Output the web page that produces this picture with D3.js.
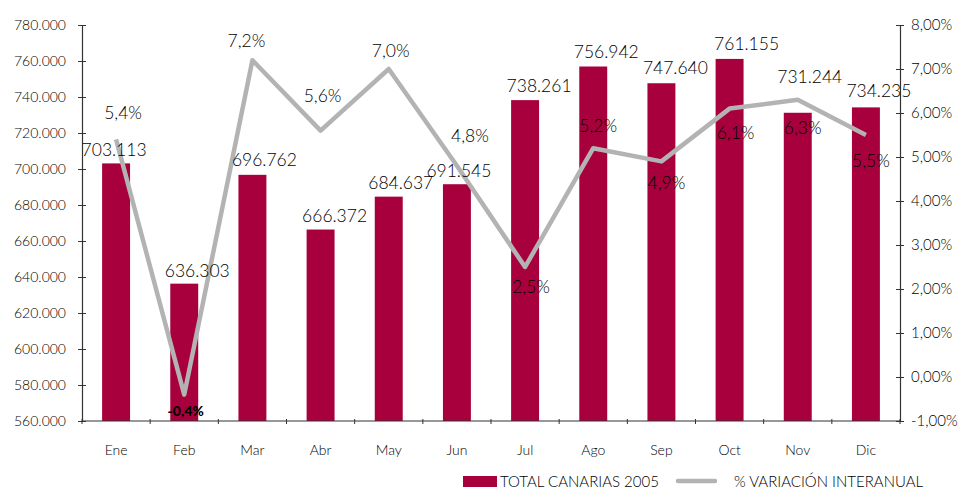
<!DOCTYPE html>
<html>
<head>
<meta charset="utf-8">
<script src="https://cdn.jsdelivr.net/npm/d3@7/dist/d3.min.js"></script>
<style>
  html, body { margin: 0; padding: 0; background: #fff; }
  svg { display: block; font-family: Lato, "Open Sans", sans-serif; font-weight: 300; }
</style>
</head>
<body>
<svg id="chart" width="961" height="489"></svg>
<script>
// ---- data ----
const months = ["Ene","Feb","Mar","Abr","May","Jun","Jul","Ago","Sep","Oct","Nov","Dic"];
const totals = [703113,636303,696762,666372,684637,691545,738261,756942,747640,761155,731244,734235];
const variation = [5.4,-0.4,7.2,5.6,7.0,4.8,2.5,5.2,4.9,6.1,6.3,5.5];
const leftTicks = [560000,580000,600000,620000,640000,660000,680000,700000,720000,740000,760000,780000];
const rightTicks = [-1,0,1,2,3,4,5,6,7,8];
const seriesNames = ["TOTAL CANARIAS 2005","% VARIACIÓN INTERANUAL"];

// label placement (pixel offsets from the mark), layout only
const valueLabelDx = [-2,13,12,14,12,2,14,13,14,17,12,13];
const valueLabelDy = [-7,-7,-9,-8,-8,-7,-8,-9,-9,-9,-30,-10];
const pctLabelDx = [7,1.5,-6,2,2,13,6,5,5,6,5,5];
const pctLabelDy = [-20,21,-13.5,-29,-12,-23.5,26,-16,28,30,34,32];

// ---- setup ----
const svg = d3.select("#chart");
const locale = d3.formatLocale({decimal: ",", thousands: ".", grouping: [3], currency: ["", "€"], minus: "-"});
const fmtThousands = locale.format(",.0f");
const fmtPctAxis = v => locale.format(".2f")(v) + "%";
const fmtPct = v => locale.format(".1f")(v) + "%";

const plotLeft = 82, plotRight = 900, plotTop = 25, plotBottom = 421;
const barColor = "#a8003c";
const lineColor = "#b3b3b3";
const textColor = "#000";
const axisColor = "#333";

const x = d3.scaleBand().domain(months).range([plotLeft, plotRight]).paddingInner(0.59).paddingOuter(0.295);
const yL = d3.scaleLinear().domain([560000, 780000]).range([plotBottom, plotTop]);
const yR = d3.scaleLinear().domain([-1, 8]).range([plotBottom, plotTop]);
const cx = m => x(m) + x.bandwidth() / 2;

// ---- bars ----
svg.append("g").selectAll("rect").data(months).join("rect")
  .attr("x", m => x(m))
  .attr("y", (m, i) => yL(totals[i]))
  .attr("width", x.bandwidth())
  .attr("height", (m, i) => yL(560000) - yL(totals[i]))
  .attr("fill", barColor);

// ---- axes ----
const gL = svg.append("g").attr("transform", `translate(${plotLeft},0)`)
  .call(d3.axisLeft(yL).tickValues(leftTicks).tickFormat(fmtThousands).tickSizeInner(4).tickSizeOuter(0).tickPadding(12));
gL.selectAll(".tick line").attr("x2", 4).attr("x1", -4);
const gR = svg.append("g").attr("transform", `translate(${plotRight},0)`)
  .call(d3.axisRight(yR).tickValues(rightTicks).tickFormat(fmtPctAxis).tickSizeInner(4).tickSizeOuter(0).tickPadding(7));
gR.selectAll(".tick line").attr("x1", -4).attr("x2", 4);
const gB = svg.append("g").attr("transform", `translate(0,${plotBottom})`)
  .call(d3.axisBottom(x).tickSize(0).tickSizeOuter(0).tickPadding(24));
gB.select(".domain").remove();
svg.append("line").attr("x1", plotLeft).attr("x2", plotRight).attr("y1", plotBottom).attr("y2", plotBottom)
  .attr("stroke", axisColor).attr("stroke-width", 1.2);
// category boundary ticks
const boundaries = d3.range(months.length + 1).map(k => plotLeft + k * x.step());
svg.append("g").selectAll("line").data(boundaries).join("line")
  .attr("x1", d => d).attr("x2", d => d).attr("y1", plotBottom - 2).attr("y2", plotBottom + 3)
  .attr("stroke", axisColor).attr("stroke-width", 1);

[gL, gR, gB].forEach(g => {
  g.selectAll(".domain").attr("stroke", axisColor).attr("stroke-width", 1.2);
  g.selectAll(".tick line").attr("stroke", axisColor);
  g.selectAll("text").attr("fill", textColor).attr("font-size", 14)
    .attr("font-family", "Lato, sans-serif").attr("font-weight", 300);
});
gR.selectAll("text").attr("font-size", 15);

// ---- line ----
const line = d3.line().x((d, i) => cx(months[i])).y(d => yR(d));
svg.append("path").datum(variation).attr("d", line)
  .attr("fill", "none").attr("stroke", lineColor).attr("stroke-width", 4.5)
  .attr("stroke-linejoin", "round");

// ---- value labels ----
svg.append("g").selectAll("text").data(months).join("text")
  .attr("x", (m, i) => cx(m) + valueLabelDx[i])
  .attr("y", (m, i) => yL(totals[i]) + valueLabelDy[i])
  .attr("text-anchor", "middle").attr("font-size", 17.5).attr("fill", textColor)
  .text((m, i) => fmtThousands(totals[i]));

// ---- percentage labels ----
svg.append("g").selectAll("text").data(months).join("text")
  .attr("x", (m, i) => cx(m) + pctLabelDx[i])
  .attr("y", (m, i) => yR(variation[i]) + pctLabelDy[i])
  .attr("text-anchor", "middle")
  .attr("font-size", (m, i) => variation[i] < 0 ? 14 : 17.5)
  .attr("font-weight", (m, i) => variation[i] < 0 ? 900 : 300)
  .attr("fill", textColor)
  .text((m, i) => fmtPct(variation[i]));

// ---- legend ----
const lg = svg.append("g");
lg.append("rect").attr("x", 463).attr("y", 476).attr("width", 34).attr("height", 11).attr("fill", barColor);
lg.append("text").attr("x", 500).attr("y", 487).attr("font-size", 15).attr("fill", textColor).text(seriesNames[0]);
lg.append("line").attr("x1", 678).attr("x2", 715).attr("y1", 481).attr("y2", 481)
  .attr("stroke", lineColor).attr("stroke-width", 4.5).attr("stroke-linecap", "round");
lg.append("text").attr("x", 734).attr("y", 487).attr("font-size", 15).attr("fill", textColor).text(seriesNames[1]);
</script>
</body>
</html>
